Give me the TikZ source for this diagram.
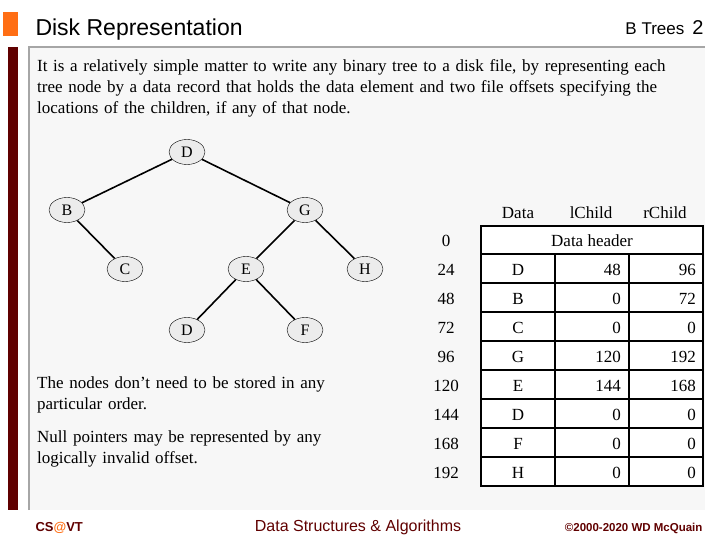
\documentclass[tikz,border=0pt]{standalone}
\usepackage{fontspec}
\setmainfont{Liberation Serif}
\setsansfont{Liberation Sans}
\usetikzlibrary{shapes.geometric}
\definecolor{barred}{RGB}{96,0,0}
\definecolor{slideorange}{RGB}{255,110,20}
\definecolor{boxgray}{RGB}{247,247,247}
\AtBeginDocument{\hyphenpenalty=10000\relax}
\begin{document}
\begin{tikzpicture}[x=1pt,y=-1pt]
            \tikzset{vertex/.style = {shape=ellipse, draw, fill=gray!15, minimum width=36pt, minimum height=25pt, inner sep=0pt, font=\fontsize{16}{16}\selectfont}}
            \tikzset{edge/.style = {draw=black, line width=1.6pt, -}}
            \tikzset{cell/.style = {font=\fontsize{17}{17}\selectfont, inner sep=0pt}}
            \tikzset{prose/.style = {anchor=north west, align=left, inner sep=0pt, font=\fontsize{17}{21}\selectfont}}
            \useasboundingbox (0,0) rectangle (720,540);
            % slide frame
            \fill[slideorange] (3,12) rectangle (18,36);
            \fill[boxgray] (29,47) rectangle (705,510);
            \draw[gray!70,line width=2pt] (29,510) -- (29,47) -- (705,47);
            \fill[barred] (8,47) rectangle (18,510);
            \node[anchor=base west,font=\sffamily\fontsize{23}{23}\selectfont] (title) at (32,36) {Disk Representation};
            \node[anchor=base east,font=\sffamily\fontsize{17}{17}\selectfont] (topic) at (707,35) {B Trees\hspace{8pt}\fontsize{20}{20}\selectfont 2};
            \node[prose,text width=650pt] (intro) at (37,59)
              {It is a relatively simple matter to write any binary tree to a disk file, by representing each tree node by a data record that holds the data element and two file offsets specifying the locations of the children, if any of that node.};
            % vertices
            \node[vertex] (d) at (187,152) {D};
            \node[vertex] (b) at (67,210) {B};
            \node[vertex] (g) at (305,210) {G};
            \node[vertex] (c) at (125,269) {C};
            \node[vertex] (e) at (246,269) {E};
            \node[vertex] (h) at (365,269) {H};
            \node[vertex] (d2) at (187,330) {D};
            \node[vertex] (f) at (305,330) {F};
            % edges
            \draw[edge] (d) -- (b);
            \draw[edge] (d) -- (g);
            \draw[edge] (b) -- (c);
            \draw[edge] (g) -- (e);
            \draw[edge] (g) -- (h);
            \draw[edge] (e) -- (d2);
            \draw[edge] (e) -- (f);
            % table
            \fill[white] (481,226) rectangle (703,486);
            \draw[line width=1.6pt] (481,226) rectangle (703,486);
            \foreach \y in {254,283,312,341,370,399,428,457}
              \draw[line width=1.6pt] (481,\y) -- (703,\y);
            \draw[line width=1.6pt] (555,254) -- (555,486);
            \draw[line width=1.6pt] (629,254) -- (629,486);
            \node[cell] (hdata) at (518,213) {Data};
            \node[cell] (hleft) at (591,213) {lChild};
            \node[cell] (hright) at (665,213) {rChild};
            \node[cell] (off0) at (446,241) {0};
            \node[cell] (header) at (592,241) {Data header};
            \foreach \off/\dat/\lc/\rc [count=\i] in {24/D/48/96, 48/B/0/72, 72/C/0/0, 96/G/120/192, 120/E/144/168, 144/D/0/0, 168/F/0/0, 192/H/0/0} {
              \node[cell] (off\i) at (446,240.5+29*\i) {\off};
              \node[cell] (dat\i) at (518,240.5+29*\i) {\dat};
              \node[cell,anchor=east] (lc\i) at (621,240.5+29*\i) {\lc};
              \node[cell,anchor=east] (rc\i) at (696,240.5+29*\i) {\rc};
            }
            % notes
            \node[prose,text width=300pt] (note1) at (37,377)
              {The nodes don{\char"27}t need to be stored in any particular order.};
            \node[prose,text width=300pt] (note2) at (37,431)
              {Null pointers may be represented by any logically invalid offset.};
            % footer
            \node[anchor=base west,font=\sffamily\bfseries\fontsize{13}{13}\selectfont,text=barred] (cs) at (32,531) {CS\textcolor{slideorange}{@}VT};
            \node[anchor=base,font=\sffamily\fontsize{16}{16}\selectfont,text=barred] (course) at (358,531) {Data Structures \& Algorithms};
            \node[anchor=base east,font=\sffamily\bfseries\fontsize{11.5}{11.5}\selectfont,text=barred] (copy) at (706,531) {\copyright2000-2020 WD McQuain};
        \end{tikzpicture}
\end{document}
